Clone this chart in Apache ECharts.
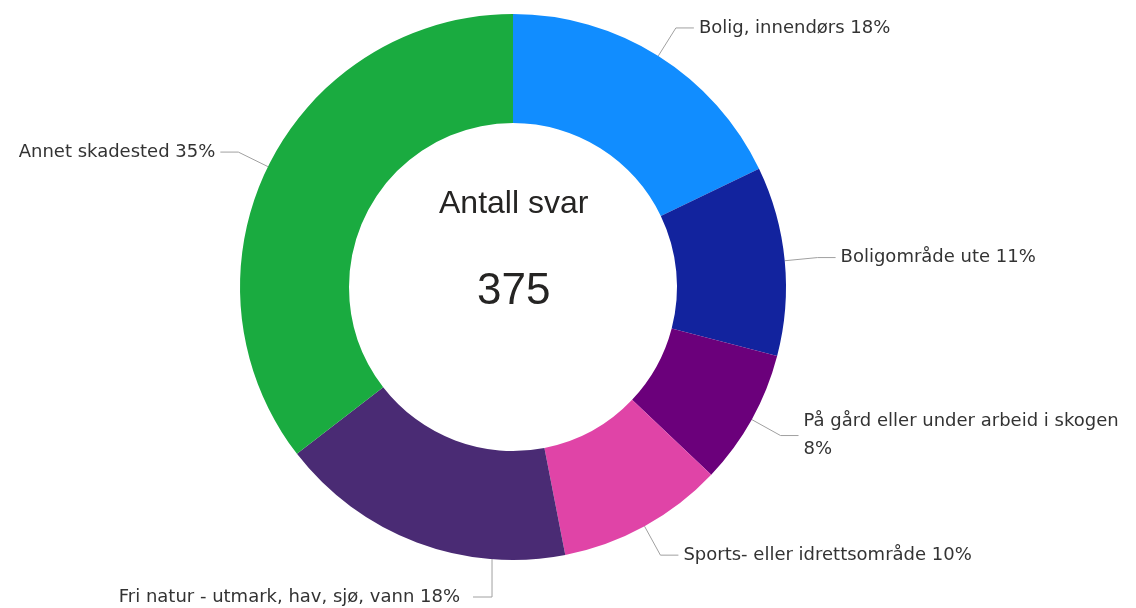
<!DOCTYPE html>
<html>
<head>
<meta charset="utf-8">
<script src="https://cdn.jsdelivr.net/npm/echarts@6/dist/echarts.min.js"></script>
<style>
  html, body { margin: 0; padding: 0; background: #fff; }
  #chart { width: 1136px; height: 608px; }
</style>
</head>
<body>
<div id="chart"></div>
<script>
// kategorier og antall svar
var categories = [
  "Bolig, innendørs",
  "Boligområde ute",
  "På gård eller under arbeid i skogen",
  "Sports- eller idrettsområde",
  "Fri natur - utmark, hav, sjø, vann",
  "Annet skadested"
];
var counts = [67, 42, 30, 37, 66, 133];
var colors = ["#118DFF", "#12239E", "#6B007B", "#E044A7", "#4A2B74", "#1AAB40"];
var centerTitle = "Antall svar";

var total = counts.reduce(function (a, b) { return a + b; }, 0);
var cx = 513, cy = 287, rOuter = 273;

var chart = echarts.init(document.getElementById("chart"));
chart.setOption({
  animation: false,
  color: colors,
  graphic: [
    {
      type: "text",
      left: cx - 74,
      top: 188,
      style: {
        text: centerTitle,
        font: "32px 'Liberation Sans', Arial, sans-serif",
        fill: "#252423"
      }
    },
    {
      type: "text",
      left: cx - 36,
      top: 270,
      style: {
        text: String(total),
        font: "44px 'Liberation Sans', Arial, sans-serif",
        fill: "#252423"
      }
    }
  ],
  series: [
    {
      type: "pie",
      center: [cx, cy],
      radius: [164, rOuter],
      startAngle: 90,
      clockwise: true,
      avoidLabelOverlap: true,
      label: {
        show: true,
        position: "outside",
        color: "#333",
        fontFamily: "'DejaVu Sans', sans-serif",
        fontSize: 18,
        lineHeight: 28,
        overflow: "none",
        edgeDistance: 0,
        formatter: function (p) {
          var pct = Math.round(p.percent) + "%";
          // lange navn får prosenten på egen linje
          return p.name.length > 30 && p.dataIndex === 2 ? p.name + "\n" + pct : p.name + " " + pct;
        }
      },
      labelLine: {
        show: true,
        length: 33,
        length2: 18,
        lineStyle: { color: "#A0A0A0", width: 1 }
      },
      labelLayout: function (params) {
        // den nederste etiketten står lenger ned og mer mot høyre i originalen
        if (params.dataIndex !== 4) return;
        var r = params.labelRect;
        var dx = 86, dy = 4;
        var right = r.x + r.width + dx;
        var midY = r.y + r.height / 2 + dy;
        var lx = right + 32;
        var startY = cy + Math.sqrt(rOuter * rOuter - (lx - cx) * (lx - cx));
        return {
          dx: dx,
          dy: dy,
          labelLinePoints: [[lx, startY], [lx, midY], [right + 13, midY]]
        };
      },
      data: categories.map(function (c, i) {
        var d = { name: c, value: counts[i] };
        if (i === 4) d.labelLine = { length: 56, length2: 18 };
        return d;
      })
    }
  ]
});
</script>
</body>
</html>
